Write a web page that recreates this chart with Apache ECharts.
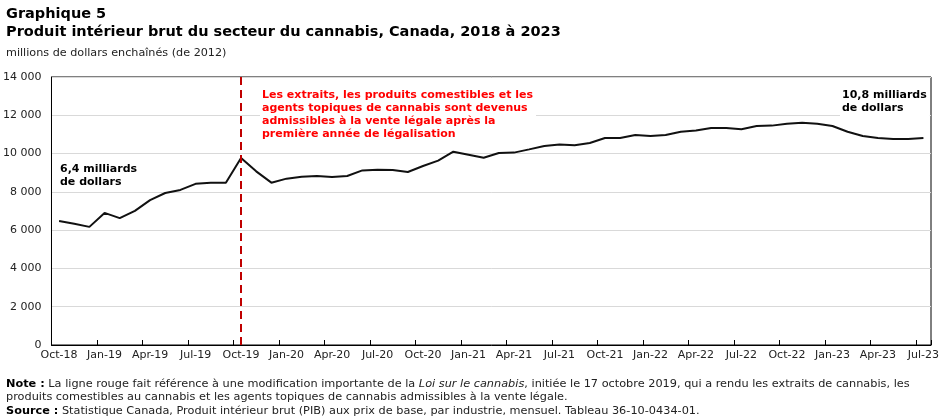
<!DOCTYPE html>
<html style="height: 100%">
    <head>
        <meta charset="utf-8">
    </head>
    <body style="height: 100%; margin: 0; background: #fff">
        <div id="container" style="width: 945px; height: 418px"></div>

        <script type="text/javascript" src="https://cdn.jsdelivr.net/npm/echarts@6/dist/echarts.min.js"></script>

        <script type="text/javascript">
var months = [
  'Oct-18','Nov-18','Dec-18','Jan-19','Feb-19','Mar-19','Apr-19','May-19','Jun-19','Jul-19','Aug-19','Sep-19',
  'Oct-19','Nov-19','Dec-19','Jan-20','Feb-20','Mar-20','Apr-20','May-20','Jun-20','Jul-20','Aug-20','Sep-20',
  'Oct-20','Nov-20','Dec-20','Jan-21','Feb-21','Mar-21','Apr-21','May-21','Jun-21','Jul-21','Aug-21','Sep-21',
  'Oct-21','Nov-21','Dec-21','Jan-22','Feb-22','Mar-22','Apr-22','May-22','Jun-22','Jul-22','Aug-22','Sep-22',
  'Oct-22','Nov-22','Dec-22','Jan-23','Feb-23','Mar-23','Apr-23','May-23','Jun-23','Jul-23'
];
// PIB, millions de dollars enchaînés (2012)
var gdp = [
  6480, 6330, 6170, 6900, 6630, 7010, 7570, 7940, 8100, 8420, 8470, 8480,
  9770, 9070, 8480, 8690, 8790, 8830, 8780, 8830, 9120, 9160, 9140, 9040,
  9350, 9630, 10100, 9940, 9780, 10030, 10050, 10220, 10400, 10480, 10430, 10550,
  10810, 10810, 10970, 10920, 10970, 11140, 11200, 11340, 11340, 11270, 11440, 11460,
  11560, 11610, 11560, 11440, 11140, 10920, 10810, 10760, 10760, 10810
];
var changeMonth = 'Oct-19';

var FONT = "'DejaVu Sans', Verdana, sans-serif";
var dom = document.getElementById('container');
var myChart = echarts.init(dom);

function fmt(v) {
  return String(v).replace(/\B(?=(\d{3})+(?!\d))/g, ' ');
}

var option = {
  animation: false,
  textStyle: { fontFamily: FONT },
  title: [
    {
      text: 'Graphique 5\nProduit intérieur brut du secteur du cannabis, Canada, 2018 à 2023',
      left: 6, top: 5, padding: 0,
      textStyle: { fontSize: 14.5, fontWeight: 'bold', color: '#000', lineHeight: 18, fontFamily: FONT }
    },
    {
      text: 'millions de dollars enchaînés (de 2012)',
      left: 6, top: 48, padding: 0,
      textStyle: { fontSize: 11.2, fontWeight: 'normal', color: '#222', fontFamily: FONT }
    },
    {
      text: '{b|Note :} La ligne rouge fait référence à une modification importante de la {i|Loi sur le cannabis}, initiée le 17 octobre 2019, qui a rendu les extraits de cannabis, les\nproduits comestibles au cannabis et les agents topiques de cannabis admissibles à la vente légale.\n{b|Source :} Statistique Canada, Produit intérieur brut (PIB) aux prix de base, par industrie, mensuel. Tableau 36-10-0434-01.',
      left: 6, top: 377, padding: 0,
      textStyle: {
        fontSize: 11.3, fontWeight: 'normal', color: '#222', lineHeight: 13.5, fontFamily: FONT,
        rich: {
          b: { fontWeight: 'bold', fontSize: 11.3, color: '#000', lineHeight: 13.5, fontFamily: FONT },
          i: { fontStyle: 'italic', fontSize: 11.3, color: '#222', lineHeight: 13.5, fontFamily: FONT }
        }
      }
    }
  ],
  grid: {
    left: 51, right: 14, top: 77, bottom: 73,
    show: true, borderColor: '#000', borderWidth: 1,
    containLabel: false
  },
  xAxis: {
    type: 'category',
    data: months,
    boundaryGap: true,
    axisLine: { lineStyle: { color: '#000', width: 1 } },
    axisTick: { show: true, inside: true, length: 5, interval: 2, lineStyle: { color: '#000' } },
    axisLabel: { interval: 2, color: '#222', fontSize: 11, margin: 5, fontFamily: FONT },
    splitLine: { show: false }
  },
  yAxis: {
    type: 'value',
    min: 0, max: 14000, interval: 2000,
    axisLine: { show: true, lineStyle: { color: '#000', width: 1 } },
    axisTick: { show: false },
    axisLabel: { color: '#222', fontSize: 11, margin: 10, fontFamily: FONT, formatter: fmt },
    splitLine: { lineStyle: { color: '#d9d9d9', width: 1 } }
  },
  series: [
    {
      type: 'line',
      data: gdp,
      symbol: 'none',
      lineStyle: { color: '#111', width: 2 },
      z: 3,
      markLine: {
        silent: true,
        symbol: 'none',
        label: { show: false },
        lineStyle: { color: '#c00000', width: 2, type: [8, 5] },
        data: [{ xAxis: changeMonth }]
      }
    }
  ],
  graphic: [
    {
      type: 'text', left: 58, top: 162, z: 2,
      style: {
        text: '6,4 milliards\nde dollars',
        font: 'bold 11px ' + FONT, lineHeight: 13, fill: '#000',
        backgroundColor: '#fff', padding: [1, 3, 1, 2]
      }
    },
    {
      type: 'text', left: 840, top: 88, z: 2,
      style: {
        text: '10,8 milliards\nde dollars',
        font: 'bold 11px ' + FONT, lineHeight: 13, fill: '#000',
        backgroundColor: '#fff', padding: [1, 3, 1, 2]
      }
    },
    {
      type: 'text', left: 260, top: 88, z: 2,
      style: {
        text: 'Les extraits, les produits comestibles et les\nagents topiques de cannabis sont devenus\nadmissibles à la vente légale après la\npremière année de légalisation',
        font: 'bold 11px ' + FONT, lineHeight: 13, fill: '#ff0000',
        backgroundColor: '#fff', padding: [1, 3, 1, 2]
      }
    }
  ]
};

myChart.setOption(option);
        </script>
    </body>
</html>
